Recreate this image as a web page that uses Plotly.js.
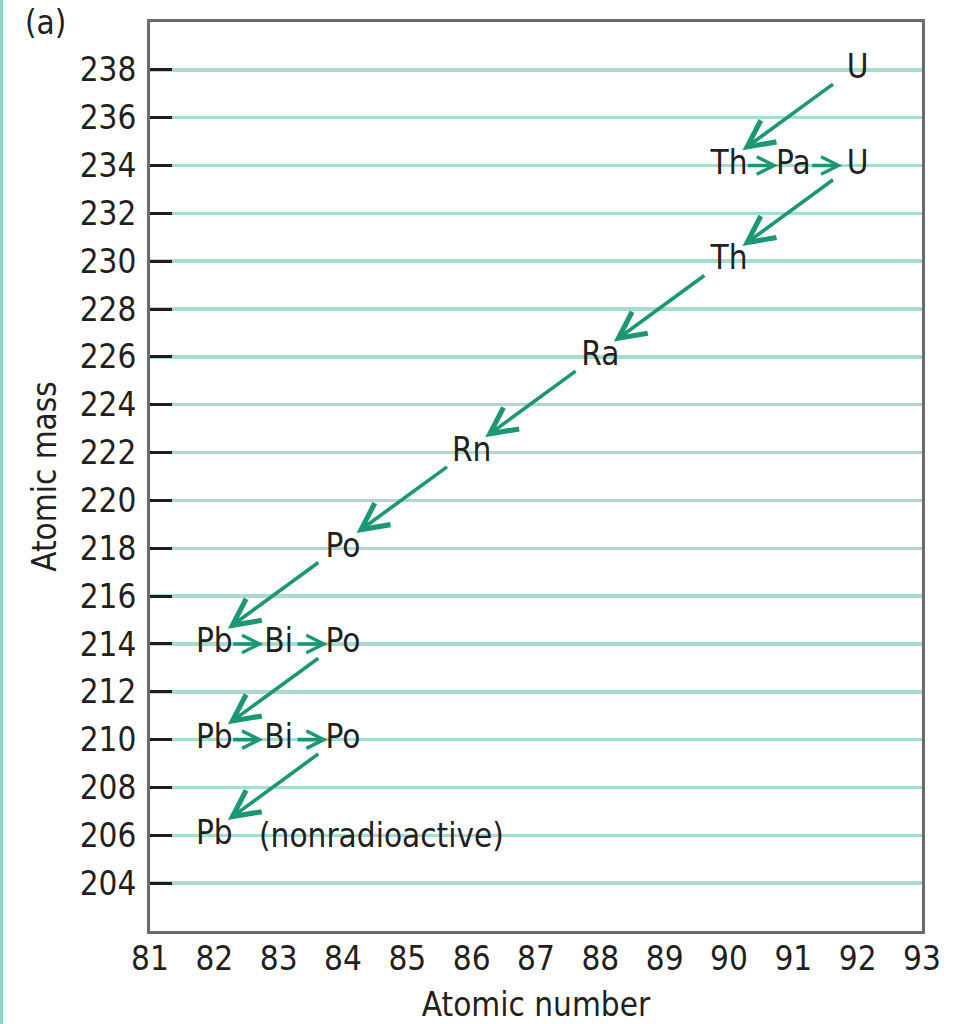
<!DOCTYPE html>
<html>
<head>
<meta charset="utf-8">
<script src="https://cdn.plot.ly/plotly-3.0.1.min.js"></script>
<style>
  html, body { margin: 0; padding: 0; background: #ffffff; }
  #chart { width: 961px; height: 1024px; }
</style>
</head>
<body>
<div id="chart"></div>
<script>
// ---- data ----
const nuclideSymbol = ['U', 'Th', 'Pa', 'U', 'Th', 'Ra', 'Rn', 'Po', 'Pb', 'Bi', 'Po', 'Pb', 'Bi', 'Po', 'Pb'];
const atomicNumber  = [92, 90, 91, 92, 90, 88, 86, 84, 82, 83, 84, 82, 83, 84, 82];
const atomicMass    = [238, 234, 234, 234, 230, 226, 222, 218, 214, 214, 214, 210, 210, 210, 206];
const finalNote = '(nonradioactive)';
const xTickVals = [81, 82, 83, 84, 85, 86, 87, 88, 89, 90, 91, 92, 93];
const xTickText = ['81', '82', '83', '84', '85', '86', '87', '88', '89', '90', '91', '92', '93'];
const yTickVals = [204, 206, 208, 210, 212, 214, 216, 218, 220, 222, 224, 226, 228, 230, 232, 234, 236, 238];
const yTickText = ['204', '206', '208', '210', '212', '214', '216', '218', '220', '222', '224', '226', '228', '230', '232', '234', '236', '238'];
const panelLabel = '(a)';
const xTitle = 'Atomic number';
const yTitle = 'Atomic mass';

// ---- styles ----
const FONT = '"Liberation Sans Narrow", "Arial Narrow", "DejaVu Sans Condensed", sans-serif';
const TXT = '#231f20';
const ARROW = '#1b9777';
const GRID = '#a9dccd';
const AXIS = '#6b6b6b';
const FS = 33;

const textTrace = {
  type: 'scatter',
  mode: 'text',
  x: atomicNumber,
  y: atomicMass,
  text: nuclideSymbol,
  textposition: 'middle center',
  textfont: { family: FONT, size: FS, color: TXT },
  hoverinfo: 'skip',
  showlegend: false,
  cliponaxis: false
};

const annotations = [];
// decay arrows: each nuclide decays into the next one in the chain
for (let i = 0; i < nuclideSymbol.length - 1; i++) {
  const z0 = atomicNumber[i], a0 = atomicMass[i];
  const z1 = atomicNumber[i + 1], a1 = atomicMass[i + 1];
  const alpha = a0 !== a1;
  let tx, ty, hx, hy;
  if (alpha) {
    tx = z0 - 0.36; ty = a0 - 0.55;
    hx = z1 + 0.21; hy = a1 + 0.64;
  } else {
    tx = z0 + 0.27; ty = a0;
    hx = z1 - 0.24; hy = a1;
  }
  annotations.push({
    x: hx, y: hy, ax: tx, ay: ty,
    xref: 'x', yref: 'y', axref: 'x', ayref: 'y',
    text: '', showarrow: true,
    arrowhead: 5, arrowsize: alpha ? 1.45 : 0.95, arrowwidth: 3.6,
    arrowcolor: ARROW, standoff: 0, startstandoff: 0
  });
}
// note next to the stable end product
annotations.push({
  x: atomicNumber[atomicNumber.length - 1] + 0.66,
  y: atomicMass[atomicMass.length - 1],
  xref: 'x', yref: 'y', xanchor: 'left', yanchor: 'middle',
  text: finalNote, showarrow: false,
  font: { family: FONT, size: FS, color: TXT }
});
// panel label
annotations.push({
  x: -0.136, y: 0.999, xref: 'paper', yref: 'paper',
  xanchor: 'center', yanchor: 'middle',
  text: panelLabel, showarrow: false,
  font: { family: FONT, size: FS, color: TXT }
});

const layout = {
  width: 961, height: 1024,
  margin: { l: 150, r: 39, t: 22, b: 93 },
  paper_bgcolor: '#ffffff', plot_bgcolor: '#ffffff',
  font: { family: FONT, size: FS, color: TXT },
  showlegend: false,
  xaxis: {
    range: [81, 93],
    tickmode: 'array', tickvals: xTickVals, ticktext: xTickText,
    ticks: '', showgrid: false, zeroline: false,
    showline: true, linecolor: AXIS, linewidth: 3, mirror: true,
    tickfont: { family: FONT, size: FS, color: TXT },
    ticklabelstandoff: -4,
    title: { text: xTitle, font: { family: FONT, size: FS, color: TXT }, standoff: 17 }
  },
  xaxis2: {
    range: [81, 93], overlaying: 'x', anchor: 'y', side: 'bottom',
    tickmode: 'array', tickvals: xTickVals.slice(1, -1),
    ticks: 'inside', ticklen: 25, tickwidth: 3, tickcolor: '#1e1e1e',
    showticklabels: false, showgrid: false, zeroline: false, showline: false
  },
  yaxis: {
    range: [202, 240],
    tickmode: 'array', tickvals: yTickVals, ticktext: yTickText,
    ticks: 'inside', ticklen: 22, tickwidth: 3, tickcolor: '#1e1e1e',
    showgrid: true, gridcolor: GRID, gridwidth: 3.5, zeroline: false,
    showline: true, linecolor: AXIS, linewidth: 3, mirror: true,
    tickfont: { family: FONT, size: FS, color: TXT },
    ticklabelstandoff: 4,
    title: { text: yTitle, font: { family: FONT, size: FS, color: TXT }, standoff: 14 }
  },
  annotations: annotations,
  shapes: [{
    type: 'line', xref: 'paper', yref: 'paper',
    x0: -0.1924, x1: -0.1924, y0: -0.11, y1: 1.03,
    line: { color: '#8fd3c0', width: 3 }
  }]
};

Plotly.newPlot('chart', [textTrace], layout, { displayModeBar: false, staticPlot: true });
</script>
</body>
</html>
